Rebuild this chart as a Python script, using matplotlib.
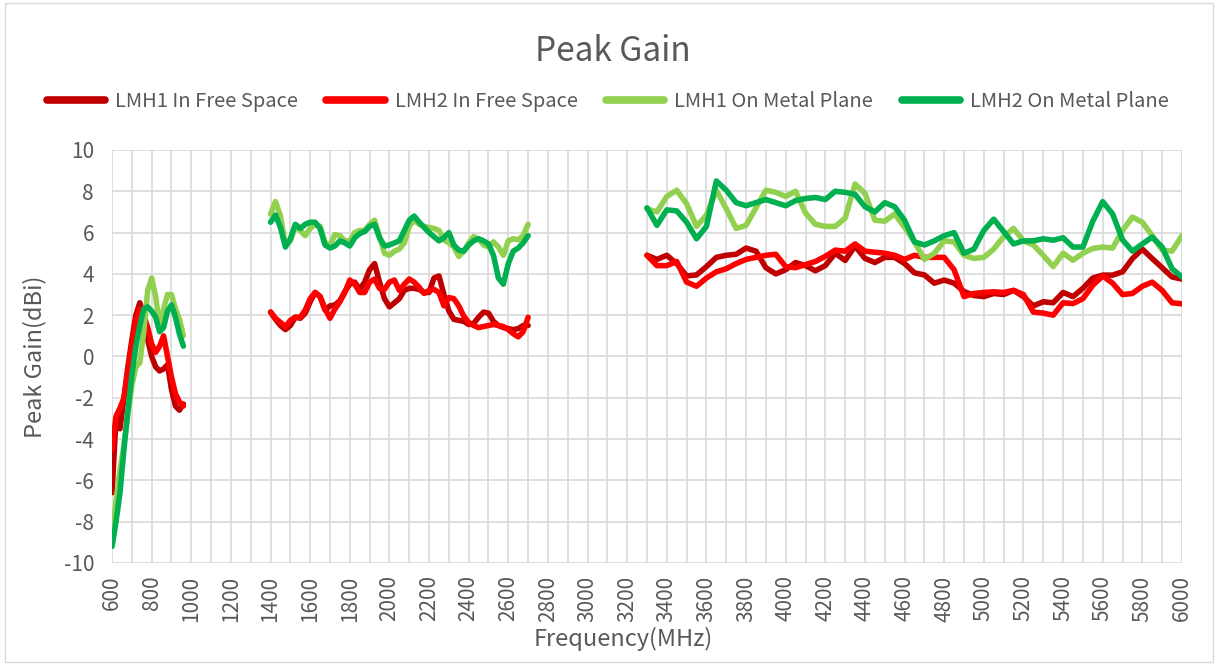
import numpy as np
import matplotlib.pyplot as plt
from matplotlib.patches import Rectangle

plt.rcParams['font.family'] = ['Noto Sans CJK SC', 'DejaVu Sans']
plt.rcParams['axes.unicode_minus'] = False

# frequency grids (MHz) for the three measured bands
freq_lo = np.arange(600, 961, 20)
freq_mid = np.arange(1400, 2701, 25)
freq_hi = np.arange(3300, 6001, 50)

# LMH1 In Free Space
lmh1_free_lo = [-6.6, -3.0, -3.5, -2.0, -0.5, 0.8, 2.0, 2.6, 2.0, 0.8,
                0.0, -0.5, -0.7, -0.6, -0.4, -1.6, -2.4, -2.6, -2.3]
lmh1_free_mid = [2.15, 1.8, 1.5, 1.3, 1.5, 1.9, 1.85, 2.1, 2.65, 3.1,
                 2.9, 2.25, 2.45, 2.5, 2.7, 3.15, 3.5, 3.6, 3.25, 3.6,
                 4.2, 4.5, 3.6, 2.8, 2.4, 2.6, 2.8, 3.2, 3.3, 3.3,
                 3.25, 3.1, 3.1, 3.8, 3.9, 3.0, 2.2, 1.8, 1.75, 1.7,
                 1.55, 1.6, 1.9, 2.15, 2.1, 1.7, 1.5, 1.4, 1.35, 1.3,
                 1.35, 1.5, 1.5]
lmh1_free_hi = [4.9, 4.7, 4.9, 4.5, 3.9, 3.95, 4.35, 4.8, 4.9, 4.95,
                5.25, 5.1, 4.3, 4.0, 4.2, 4.55, 4.4, 4.15, 4.4, 5.0,
                4.65, 5.35, 4.75, 4.55, 4.8, 4.8, 4.5, 4.05, 3.95, 3.55,
                3.7, 3.55, 3.15, 2.95, 2.9, 3.05, 3.0, 3.2, 2.9, 2.45,
                2.65, 2.6, 3.1, 2.9, 3.3, 3.8, 3.94, 3.94, 4.1, 4.74,
                5.2, 4.74, 4.3, 3.85, 3.75]

# LMH2 In Free Space
lmh2_free_lo = [-4.5, -2.9, -2.5, -2.0, -0.7, 0.5, 1.7, 2.3, 2.0, 1.4,
                0.6, 0.2, 0.5, 1.0, 0.0, -1.0, -1.8, -2.2, -2.4]
lmh2_free_mid = [2.15, 1.85, 1.65, 1.45, 1.75, 1.9, 1.9, 2.25, 2.8, 3.1,
                 2.9, 2.3, 1.85, 2.3, 2.65, 3.1, 3.7, 3.5, 3.1, 3.1,
                 3.6, 3.75, 3.3, 3.25, 3.6, 3.7, 3.2, 3.5, 3.75, 3.6,
                 3.35, 3.05, 3.2, 3.25, 3.1, 2.45, 2.85, 2.8, 2.45, 1.95,
                 1.65, 1.5, 1.4, 1.45, 1.5, 1.55, 1.5, 1.45, 1.3, 1.1,
                 0.95, 1.2, 1.9]
lmh2_free_hi = [4.9, 4.4, 4.4, 4.6, 3.6, 3.4, 3.8, 4.1, 4.25, 4.5,
                4.7, 4.8, 4.9, 4.95, 4.35, 4.3, 4.45, 4.6, 4.85, 5.15,
                5.1, 5.45, 5.1, 5.05, 5.0, 4.9, 4.7, 4.9, 4.8, 4.8,
                4.8, 4.2, 2.9, 3.05, 3.1, 3.13, 3.1, 3.2, 3.0, 2.15,
                2.1, 2.0, 2.6, 2.56, 2.8, 3.45, 3.9, 3.55, 3.0, 3.05,
                3.4, 3.6, 3.2, 2.6, 2.55]

# LMH1 On Metal Plane
lmh1_metal_lo = [-8.7, -7.0, -5.5, -4.3, -2.8, -1.4, -0.5, -0.3, 1.2, 3.2,
                 3.8, 2.9, 1.4, 2.3, 3.0, 3.0, 2.3, 1.8, 1.0]
lmh1_metal_mid = [6.9, 7.5, 6.8, 5.4, 5.6, 6.3, 6.1, 5.85, 6.2, 6.4,
                  6.3, 5.5, 5.4, 5.9, 5.85, 5.6, 5.6, 6.0, 6.1, 6.1,
                  6.4, 6.6, 5.8, 5.0, 4.9, 5.1, 5.2, 5.5, 6.3, 6.6,
                  6.4, 6.3, 6.25, 6.2, 6.1, 5.65, 5.5, 5.3, 4.85, 5.1,
                  5.5, 5.8, 5.7, 5.4, 5.3, 5.55, 5.3, 4.9, 5.6, 5.7,
                  5.65, 5.85, 6.4]
lmh1_metal_hi = [7.15, 7.0, 7.75, 8.05, 7.4, 6.3, 6.85, 8.05, 7.15, 6.2,
                 6.35, 7.2, 8.05, 7.95, 7.75, 8.0, 6.95, 6.4, 6.3, 6.3,
                 6.7, 8.35, 7.9, 6.6, 6.55, 6.9, 6.25, 5.55, 4.7, 5.0,
                 5.6, 5.55, 4.9, 4.75, 4.8, 5.2, 5.8, 6.2, 5.6, 5.4,
                 4.9, 4.35, 5.0, 4.66, 5.0, 5.23, 5.3, 5.25, 6.1, 6.75,
                 6.5, 5.85, 5.15, 5.1, 5.85]

# LMH2 On Metal Plane
lmh2_metal_lo = [-9.2, -8.0, -6.6, -4.5, -2.6, -0.9, 0.5, 1.5, 2.3, 2.4,
                 2.2, 1.9, 1.2, 1.4, 2.2, 2.5, 1.9, 1.1, 0.5]
lmh2_metal_mid = [6.5, 6.85, 6.25, 5.3, 5.7, 6.4, 6.2, 6.4, 6.5, 6.5,
                  6.2, 5.4, 5.25, 5.35, 5.6, 5.5, 5.35, 5.75, 5.95, 6.05,
                  6.3, 6.4, 5.75, 5.35, 5.4, 5.5, 5.6, 6.1, 6.6, 6.8,
                  6.5, 6.25, 6.0, 5.8, 5.6, 5.75, 6.0, 5.4, 5.15, 5.1,
                  5.4, 5.6, 5.7, 5.6, 5.45, 4.9, 3.8, 3.5, 4.5, 5.1,
                  5.25, 5.5, 5.85]
lmh2_metal_hi = [7.2, 6.35, 7.1, 7.05, 6.5, 5.7, 6.3, 8.5, 8.05, 7.45,
                 7.3, 7.45, 7.6, 7.45, 7.3, 7.55, 7.65, 7.7, 7.6, 8.0,
                 7.95, 7.85, 7.25, 7.0, 7.45, 7.25, 6.6, 5.55, 5.4, 5.6,
                 5.85, 6.0, 5.0, 5.2, 6.1, 6.65, 6.05, 5.45, 5.6, 5.6,
                 5.7, 5.63, 5.75, 5.3, 5.3, 6.55, 7.5, 6.9, 5.65, 5.1,
                 5.45, 5.78, 5.3, 4.25, 3.85]

series = [
    ("LMH1 In Free Space", "#C00000", lmh1_free_lo, lmh1_free_mid, lmh1_free_hi),
    ("LMH2 In Free Space", "#FF0000", lmh2_free_lo, lmh2_free_mid, lmh2_free_hi),
    ("LMH1 On Metal Plane", "#92D050", lmh1_metal_lo, lmh1_metal_mid, lmh1_metal_hi),
    ("LMH2 On Metal Plane", "#00B050", lmh2_metal_lo, lmh2_metal_mid, lmh2_metal_hi),
]

txt = "#595959"
grid = "#D9D9D9"

fig = plt.figure(figsize=(12.18, 6.66), dpi=100)
ax = fig.add_axes([0.092, 0.1547, 0.8784, 0.6201])

gap = [np.nan]
x_all = np.concatenate([freq_lo, gap, freq_mid, gap, freq_hi])
for name, color, lo, mid, hi in series:
    y_all = np.concatenate([lo, gap, mid, gap, hi])
    ax.plot(x_all, y_all, color=color, lw=4.0, label=name,
            solid_joinstyle="round", solid_capstyle="round")

ax.set_xlim(600, 6000)
ax.set_ylim(-10, 10)
ax.set_xticks(np.arange(600, 6001, 200))
ax.set_xticks(np.arange(600, 6001, 100), minor=True)
ax.set_yticks(np.arange(-10, 11, 2))
ax.tick_params(axis="x", which="both", length=0, labelrotation=90,
               labelsize=15, labelcolor=txt, pad=9)
ax.tick_params(axis="y", length=0, labelsize=15, labelcolor=txt, pad=13)
ax.grid(True, which="both", color=grid, lw=1.2)
ax.set_axisbelow(True)
for s in ax.spines.values():
    s.set_visible(False)

ax.set_xlabel("Frequency(MHz)", fontsize=17, color=txt)
ax.xaxis.set_label_coords(0.478, -0.155)
ax.set_ylabel("Peak Gain(dBi)", fontsize=17, color=txt, labelpad=12)
fig.text(0.503, 0.922, "Peak Gain", ha="center", va="center",
         fontsize=24, color=txt)

leg = fig.legend(loc="center", bbox_to_anchor=(0.499, 0.847), ncol=4,
                 frameon=False, fontsize=14.5, handlelength=2.9,
                 columnspacing=1.4, handletextpad=0.5)
for t in leg.get_texts():
    t.set_color(txt)
for h in leg.get_lines():
    h.set_linewidth(5.5)

fig.patches.append(Rectangle((0.004, 0.006), 0.992, 0.99, transform=fig.transFigure,
                             fill=False, edgecolor=grid, lw=1))

fig.savefig("out.png", dpi=100)
